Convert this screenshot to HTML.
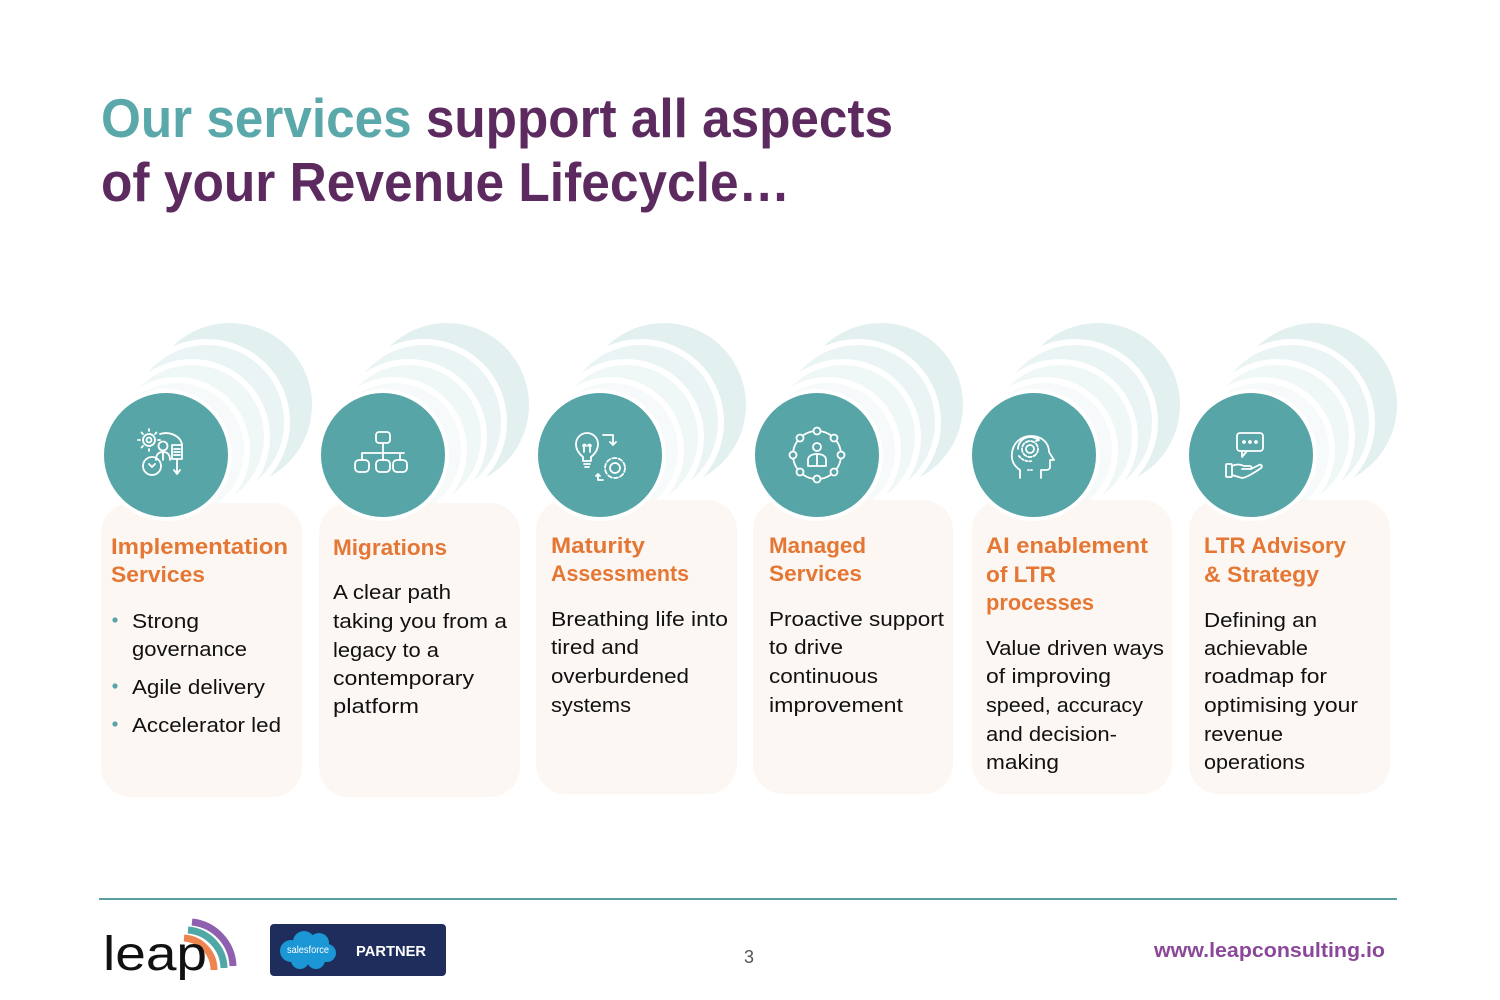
<!DOCTYPE html>
<html><head><meta charset="utf-8"><style>
html,body{margin:0;padding:0;background:#fff;}
svg{display:block;}
text{font-family:"Liberation Sans",sans-serif;}
.t{font-weight:bold;font-size:55px;}
.h{font-weight:bold;font-size:22px;fill:#e57735;}
.b{font-size:20px;fill:#111;}
.ic{fill:none;stroke:#fff;stroke-width:1.8;stroke-linecap:round;stroke-linejoin:round;}
</style></head><body>
<svg width="1500" height="1000" viewBox="0 0 1500 1000" xmlns="http://www.w3.org/2000/svg">
<rect width="1500" height="1000" fill="#fff"/>
<!-- Title -->
<text class="t" x="101" y="137" textLength="792" lengthAdjust="spacingAndGlyphs"><tspan fill="#5aa8aa">Our services</tspan><tspan fill="#5c2a5f"> support all aspects</tspan></text>
<text class="t" x="101" y="201" fill="#5c2a5f" textLength="689" lengthAdjust="spacingAndGlyphs">of your Revenue Lifecycle…</text>

<!-- back circles -->
<g stroke="#fff" stroke-width="6">
<g id="bc">
<circle cx="230" cy="405" r="85" fill="#e3f0f0"/>
<circle cx="207" cy="422" r="80" fill="#eaf4f4"/>
<circle cx="192" cy="437" r="75" fill="#f0f7f7"/>
<circle cx="177" cy="450" r="70" fill="#f6fafa"/>
</g>
<use href="#bc" x="217"/>
<use href="#bc" x="434"/>
<use href="#bc" x="651"/>
<use href="#bc" x="868"/>
<use href="#bc" x="1085"/>
</g>

<!-- cards -->
<g fill="#fcf7f3">
<rect x="101" y="503" width="201" height="294" rx="30"/>
<rect x="319" y="503" width="201" height="294" rx="30"/>
<rect x="536" y="500" width="201" height="294" rx="30"/>
<rect x="753" y="500" width="200" height="294" rx="30"/>
<rect x="972" y="500" width="200" height="294" rx="30"/>
<rect x="1189" y="500" width="201" height="294" rx="30"/>
</g>

<!-- main circles -->
<g fill="#58a5a8" stroke="#fff" stroke-width="4">
<circle cx="166" cy="455" r="64"/>
<circle cx="383" cy="455" r="64"/>
<circle cx="600" cy="455" r="64"/>
<circle cx="817" cy="455" r="64"/>
<circle cx="1034" cy="455" r="64"/>
<circle cx="1251" cy="455" r="64"/>
</g>

<!-- icons -->
<g class="ic">
<!-- icon 1 -->
<circle cx="149" cy="440" r="6"/><circle cx="149" cy="440" r="2.5"/>
<path d="M149 431v-2M149 449v2M140 440h-2M158 440h2M143 434l-1.5-1.5M155 434l1.5-1.5M143 446l-1.5 1.5"/>
<circle cx="152" cy="466" r="9"/><path d="M149 464l3 3 3-3"/>
<circle cx="163" cy="446" r="4.5"/><path d="M156 460c0-6 3-8 7-8s7 2 7 8"/><path d="M163 452v8"/>
<rect x="172" y="445" width="10" height="14"/><path d="M174 449h6M174 452h6M174 455h6"/>
<path d="M160 434c10-3 20 2 22 10M177 459v14M174 470l3 4 3-4"/>
<!-- icon 2 -->
<rect x="376" y="432" width="14" height="11" rx="3"/>
<path d="M383 443v10M362 453h42M362 453v7M383 453v7M400 453v7"/>
<rect x="355" y="460" width="14" height="12" rx="4"/><rect x="376" y="460" width="14" height="12" rx="4"/><rect x="393" y="460" width="14" height="12" rx="4"/>
<!-- icon 3 -->
<path d="M583 457c-5-4-7-8-7-13a11 11 0 0 1 22 0c0 5-2 9-7 13v4h-8z"/><path d="M584 464h6M585 467h4M584 452v-6M590 452v-6M583 446c0-2 3-2 3 0M588 446c0-2 3-2 3 0"/>
<path d="M603 435h10v10M610 442l3 3 3-3"/>
<circle cx="615" cy="468" r="5"/><circle cx="615" cy="468" r="10" stroke-dasharray="4 2.3"/>
<path d="M598 474v6h5M596 476l2-2 2 2"/>
<!-- icon 4 -->
<circle cx="817" cy="455" r="24"/>
<g fill="#58a5a8"><circle cx="817" cy="431" r="3.5"/><circle cx="817" cy="479" r="3.5"/><circle cx="793" cy="455" r="3.5"/><circle cx="841" cy="455" r="3.5"/><circle cx="800" cy="438" r="3.5"/><circle cx="834" cy="438" r="3.5"/><circle cx="800" cy="472" r="3.5"/><circle cx="834" cy="472" r="3.5"/></g>
<circle cx="817" cy="447" r="4"/><path d="M808 466v-6c0-4 4-6 9-6s9 2 9 6v6z"/><path d="M817 454v12"/>
<!-- icon 5 -->
<path d="M1020 478v-8c-6-4-9-10-8-17 1-10 9-17 19-17 11 0 18 7 18 16l5 8h-4v7c0 2-2 3-4 3h-5v8"/>
<circle cx="1030" cy="449" r="4"/><circle cx="1030" cy="449" r="8" stroke-dasharray="3.5 2"/>
<path d="M1018 449a12 12 0 0 1 20-9M1037 437l2 3-3 1"/><path d="M1019 456c3 4 8 6 13 5" stroke-dasharray="2 2"/>
<path d="M1028 470h6" stroke-dasharray="1 2"/>
<!-- icon 6 -->
<rect x="1237" y="433" width="26" height="18" rx="3"/><path d="M1242 451v6l5-6"/>
<circle cx="1244" cy="442" r="1"/><circle cx="1250" cy="442" r="1"/><circle cx="1256" cy="442" r="1"/>
<rect x="1226" y="464" width="6" height="13" rx="1"/>
<path d="M1232 466c4-2 8-2 12 0h6c2 0 2 3 0 3h-8M1232 475l10 3c4 0 15-7 19-10 2-2 0-4-2-3l-8 4"/>
</g>

<!-- Card 1 -->
<text class="h" x="111" y="554" textLength="177" lengthAdjust="spacingAndGlyphs">Implementation</text>
<text class="h" x="111" y="582" textLength="94" lengthAdjust="spacingAndGlyphs">Services</text>
<g fill="#58a5a8"><circle cx="115" cy="620" r="2.6"/><circle cx="115" cy="686" r="2.6"/><circle cx="115" cy="724" r="2.6"/></g>
<text class="b" x="132" y="628" textLength="67" lengthAdjust="spacingAndGlyphs">Strong</text>
<text class="b" x="132" y="656" textLength="115" lengthAdjust="spacingAndGlyphs">governance</text>
<text class="b" x="132" y="694" textLength="133" lengthAdjust="spacingAndGlyphs">Agile delivery</text>
<text class="b" x="132" y="732" textLength="149" lengthAdjust="spacingAndGlyphs">Accelerator led</text>

<!-- Card 2 -->
<text class="h" x="333" y="555" textLength="114" lengthAdjust="spacingAndGlyphs">Migrations</text>
<text class="b" x="333" y="599" textLength="118" lengthAdjust="spacingAndGlyphs">A clear path</text>
<text class="b" x="333" y="628" textLength="174" lengthAdjust="spacingAndGlyphs">taking you from a</text>
<text class="b" x="333" y="657" textLength="106" lengthAdjust="spacingAndGlyphs">legacy to a</text>
<text class="b" x="333" y="685" textLength="141" lengthAdjust="spacingAndGlyphs">contemporary</text>
<text class="b" x="333" y="713" textLength="86" lengthAdjust="spacingAndGlyphs">platform</text>

<!-- Card 3 -->
<text class="h" x="551" y="553" textLength="94" lengthAdjust="spacingAndGlyphs">Maturity</text>
<text class="h" x="551" y="581" textLength="138" lengthAdjust="spacingAndGlyphs">Assessments</text>
<text class="b" x="551" y="626" textLength="177" lengthAdjust="spacingAndGlyphs">Breathing life into</text>
<text class="b" x="551" y="654" textLength="88" lengthAdjust="spacingAndGlyphs">tired and</text>
<text class="b" x="551" y="683" textLength="138" lengthAdjust="spacingAndGlyphs">overburdened</text>
<text class="b" x="551" y="712" textLength="80" lengthAdjust="spacingAndGlyphs">systems</text>

<!-- Card 4 -->
<text class="h" x="769" y="553" textLength="97" lengthAdjust="spacingAndGlyphs">Managed</text>
<text class="h" x="769" y="581" textLength="93" lengthAdjust="spacingAndGlyphs">Services</text>
<text class="b" x="769" y="626" textLength="175" lengthAdjust="spacingAndGlyphs">Proactive support</text>
<text class="b" x="769" y="654" textLength="74" lengthAdjust="spacingAndGlyphs">to drive</text>
<text class="b" x="769" y="683" textLength="109" lengthAdjust="spacingAndGlyphs">continuous</text>
<text class="b" x="769" y="712" textLength="134" lengthAdjust="spacingAndGlyphs">improvement</text>

<!-- Card 5 -->
<text class="h" x="986" y="553" textLength="162" lengthAdjust="spacingAndGlyphs">AI enablement</text>
<text class="h" x="986" y="582" textLength="70" lengthAdjust="spacingAndGlyphs">of LTR</text>
<text class="h" x="986" y="610" textLength="108" lengthAdjust="spacingAndGlyphs">processes</text>
<text class="b" x="986" y="655" textLength="178" lengthAdjust="spacingAndGlyphs">Value driven ways</text>
<text class="b" x="986" y="683" textLength="125" lengthAdjust="spacingAndGlyphs">of improving</text>
<text class="b" x="986" y="712" textLength="157" lengthAdjust="spacingAndGlyphs">speed, accuracy</text>
<text class="b" x="986" y="741" textLength="131" lengthAdjust="spacingAndGlyphs">and decision-</text>
<text class="b" x="986" y="769" textLength="73" lengthAdjust="spacingAndGlyphs">making</text>

<!-- Card 6 -->
<text class="h" x="1204" y="553" textLength="142" lengthAdjust="spacingAndGlyphs">LTR Advisory</text>
<text class="h" x="1204" y="582" textLength="115" lengthAdjust="spacingAndGlyphs">&amp; Strategy</text>
<text class="b" x="1204" y="627" textLength="113" lengthAdjust="spacingAndGlyphs">Defining an</text>
<text class="b" x="1204" y="655" textLength="104" lengthAdjust="spacingAndGlyphs">achievable</text>
<text class="b" x="1204" y="683" textLength="123" lengthAdjust="spacingAndGlyphs">roadmap for</text>
<text class="b" x="1204" y="712" textLength="154" lengthAdjust="spacingAndGlyphs">optimising your</text>
<text class="b" x="1204" y="741" textLength="79" lengthAdjust="spacingAndGlyphs">revenue</text>
<text class="b" x="1204" y="769" textLength="101" lengthAdjust="spacingAndGlyphs">operations</text>

<!-- footer -->
<rect x="99" y="898" width="1298" height="2" fill="#5b9ea4"/>
<g fill="none" stroke-width="7">
<path d="M192 922 A46 46 0 0 1 233 966" stroke="#8f5fb0"/>
<path d="M188 930 A39 39 0 0 1 224 968" stroke="#4fa7a6"/>
<path d="M184 938 A32 32 0 0 1 214 970" stroke="#ee8550"/>
</g>
<text x="103" y="970" font-size="48" fill="#111" textLength="104" lengthAdjust="spacingAndGlyphs">leap</text>
<rect x="270" y="924" width="176" height="52" rx="4" fill="#1f2d5c"/>
<g fill="#1b97d5">
<circle cx="291" cy="951" r="11"/>
<circle cx="304" cy="942" r="11"/>
<circle cx="319" cy="943" r="10"/>
<circle cx="327" cy="953" r="9"/>
<circle cx="316" cy="960" r="9"/>
<circle cx="300" cy="960" r="9"/>
<rect x="290" y="945" width="36" height="16"/>
</g>
<text x="287" y="953" font-size="10" fill="#fff" textLength="42" lengthAdjust="spacingAndGlyphs">salesforce</text>
<text x="356" y="956" font-size="15" font-weight="bold" fill="#fff" textLength="70" lengthAdjust="spacingAndGlyphs">PARTNER</text>
<text x="744" y="963" font-size="18" fill="#555" textLength="10" lengthAdjust="spacingAndGlyphs">3</text>
<text x="1154" y="957" font-size="20" font-weight="bold" fill="#8b4799" textLength="231" lengthAdjust="spacingAndGlyphs">www.leapconsulting.io</text>
</svg>
</body></html>
